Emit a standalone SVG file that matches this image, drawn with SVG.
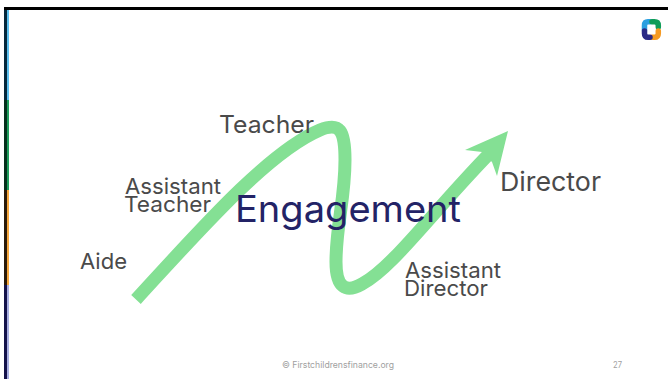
<svg xmlns="http://www.w3.org/2000/svg" width="668" height="379" viewBox="0 0 668 379">
<style>
.l{font-family:"Inter","Open Sans","Liberation Sans",sans-serif;fill:#4a4a4a;font-size:22px}
.f{font-family:"Inter","Open Sans","Liberation Sans",sans-serif;fill:#a0a0a0;font-size:9px}
.a{fill:#84e094}
</style>
<rect width="668" height="379" fill="#fff"/>
<g id="frame">
<rect x="4" y="7" width="664" height="3" fill="#000"/>
<rect x="4" y="10" width="3" height="90" fill="#04283c"/>
<rect x="7" y="10" width="2" height="90" fill="#5cc0ee"/>
<rect x="4" y="100" width="3" height="90" fill="#04301c"/>
<rect x="7" y="100" width="2" height="90" fill="#1f9e5c"/>
<rect x="4" y="190" width="3" height="95" fill="#2a1a08"/>
<rect x="7" y="190" width="2" height="95" fill="#f5a63c"/>
<rect x="4" y="285" width="3" height="94" fill="#14124a"/>
<rect x="7" y="285" width="2" height="94" fill="#a8aee0"/>
</g>
<g id="logo" fill="none" stroke-width="5.500" stroke-linecap="round">
<path d="M644.500,30 V25.500 Q644.500,21.800 648,21.800 H650" stroke="#2a9fe0"/>
<path d="M652,21.800 H654.500 Q658.300,21.800 658.300,25.500 V27" stroke="#0f9d58"/>
<path d="M658.300,31 V33.500 Q658.300,37.300 654.500,37.300 H652" stroke="#f59a23"/>
<path d="M650,37.300 H648 Q644.500,37.300 644.500,33.500 V31" stroke="#2b2a86"/>
</g>
<g id="connectors">
<path d="M136,299.500 C198,232 268,152 320,130 C340,122 345,130 345,160 C345,200 336,225 336,262 C336,288 346,293 362,284 C392,268 430,215 488,155" fill="none" stroke="#84e094" stroke-width="13"/>
<polygon class="a" points="508,131 465,150 482,152 492,162 497,176"/>
</g>
<g id="aide"><text class="l" x="80" y="269" textLength="47" lengthAdjust="spacingAndGlyphs">Aide</text></g>
<g id="assistant-teacher"><text class="l"><tspan x="125" y="194" textLength="96" lengthAdjust="spacingAndGlyphs">Assistant</tspan><tspan x="124" y="212" textLength="87" lengthAdjust="spacingAndGlyphs">Teacher</tspan></text></g>
<g id="teacher"><text class="l" x="219" y="133" textLength="95" lengthAdjust="spacingAndGlyphs" style="font-size:24px">Teacher</text></g>
<g id="engagement"><text x="235" y="222" textLength="226" lengthAdjust="spacingAndGlyphs" style="font-family:'Inter','Open Sans','Liberation Sans',sans-serif;font-size:37px;fill:#232366">Engagement</text></g>
<g id="assistant-director"><text class="l"><tspan x="405" y="278" textLength="96" lengthAdjust="spacingAndGlyphs">Assistant</tspan><tspan x="404" y="296" textLength="84" lengthAdjust="spacingAndGlyphs">Director</tspan></text></g>
<g id="director"><text class="l" x="500" y="191" textLength="101" lengthAdjust="spacingAndGlyphs" style="font-size:26px">Director</text></g>
<g id="footer"><text class="f" x="282" y="368" textLength="112" lengthAdjust="spacingAndGlyphs">© Firstchildrensfinance.org</text><text class="f" x="613" y="368" textLength="9" lengthAdjust="spacingAndGlyphs">27</text></g>
</svg>
